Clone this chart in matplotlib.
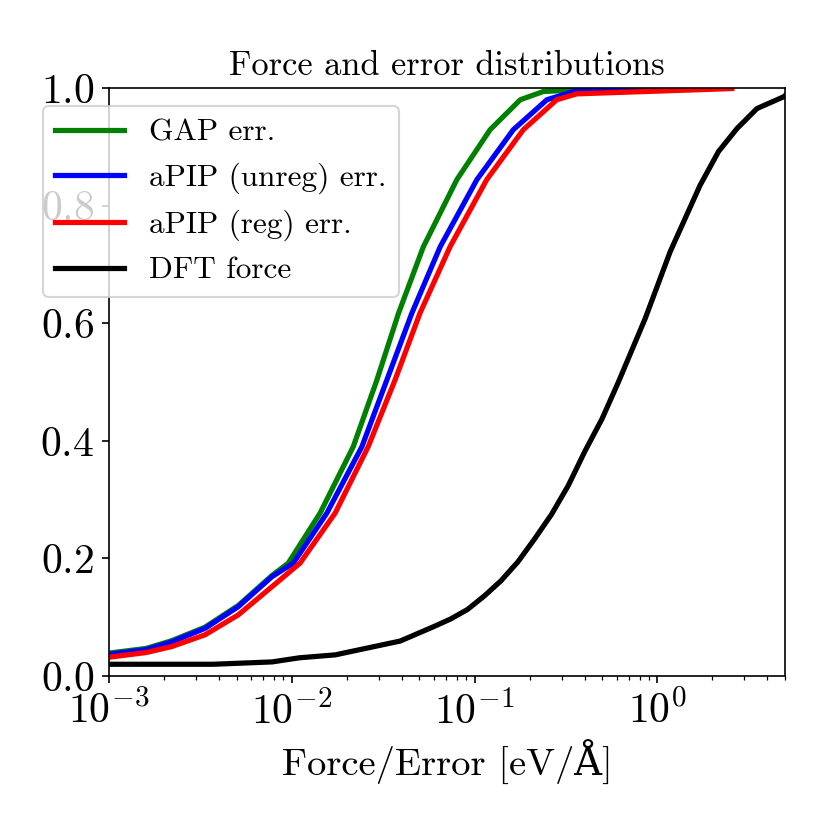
import matplotlib
matplotlib.use("Agg")
import matplotlib.pyplot as plt

plt.rcParams['font.family'] = ['cmr10', 'DejaVu Serif']
plt.rcParams['mathtext.fontset'] = 'cm'
plt.rcParams['axes.formatter.use_mathtext'] = True
plt.rcParams['font.size'] = 20

# cumulative distributions
gap_x = [0.001, 0.0016, 0.0022, 0.00335, 0.0051, 0.0078, 0.00957, 0.01429, 0.0217, 0.0292,
         0.0384, 0.0525, 0.080, 0.1217, 0.178, 0.238, 0.6]
gap_y = [0.039, 0.047, 0.060, 0.083, 0.120, 0.171, 0.192, 0.277, 0.390, 0.503,
         0.617, 0.730, 0.844, 0.929, 0.980, 0.994, 1.0]

unreg_x = [0.001, 0.0016, 0.0022, 0.00335, 0.0051, 0.0078, 0.0102, 0.01556, 0.0242, 0.0331,
           0.0454, 0.0649, 0.103, 0.163, 0.249, 0.348, 1.0]
unreg_y = [0.037, 0.045, 0.058, 0.081, 0.118, 0.169, 0.192, 0.277, 0.390, 0.503,
           0.617, 0.730, 0.844, 0.929, 0.980, 0.994, 1.0]

reg_x = [0.001, 0.0016, 0.0022, 0.00335, 0.0051, 0.0078, 0.0111, 0.01727, 0.0262, 0.0367,
         0.0503, 0.0735, 0.1166, 0.185, 0.282, 0.363, 2.56]
reg_y = [0.032, 0.040, 0.050, 0.070, 0.104, 0.152, 0.192, 0.277, 0.390, 0.503,
         0.617, 0.730, 0.844, 0.929, 0.980, 0.990, 0.999]

dft_x = [0.001, 0.0037, 0.0078, 0.011, 0.0173, 0.0392, 0.0598, 0.074, 0.0914, 0.113,
         0.1396, 0.1726, 0.213, 0.264, 0.326, 0.403, 0.498, 0.614, 0.859, 1.178,
         1.718, 2.164, 2.73, 3.51, 4.91, 5.0]
dft_y = [0.020, 0.020, 0.024, 0.031, 0.036, 0.0595, 0.084, 0.097, 0.113, 0.136,
         0.162, 0.194, 0.233, 0.275, 0.324, 0.383, 0.437, 0.5005, 0.608, 0.722,
         0.835, 0.892, 0.931, 0.965, 0.985, 0.987]

fig = plt.figure(figsize=(830 / 150, 830 / 150), dpi=150)
ax = fig.add_subplot(111)
fig.subplots_adjust(left=0.1313, right=0.9458, bottom=0.1855, top=0.894)

ax.plot(gap_x, gap_y, color='green', lw=2.5, label='GAP err.')
ax.plot(unreg_x, unreg_y, color='blue', lw=2.5, label='aPIP (unreg) err.')
ax.plot(reg_x, reg_y, color='red', lw=2.5, label='aPIP (reg) err.')
ax.plot(dft_x, dft_y, color='black', lw=2.5, label='DFT force')

ax.set_xscale('log')
ax.set_xlim(1e-3, 5.0)
ax.set_ylim(0, 1)
ax.set_title('Force and error distributions', fontsize=16.5)
ax.set_xlabel('Force/Error [eV/Å]', fontsize=18.5)

ax.legend(loc='upper left', bbox_to_anchor=(-0.098, 0.969), borderaxespad=0,
          fontsize=15, handlelength=2.2)

fig.savefig('out.png', dpi=150)
